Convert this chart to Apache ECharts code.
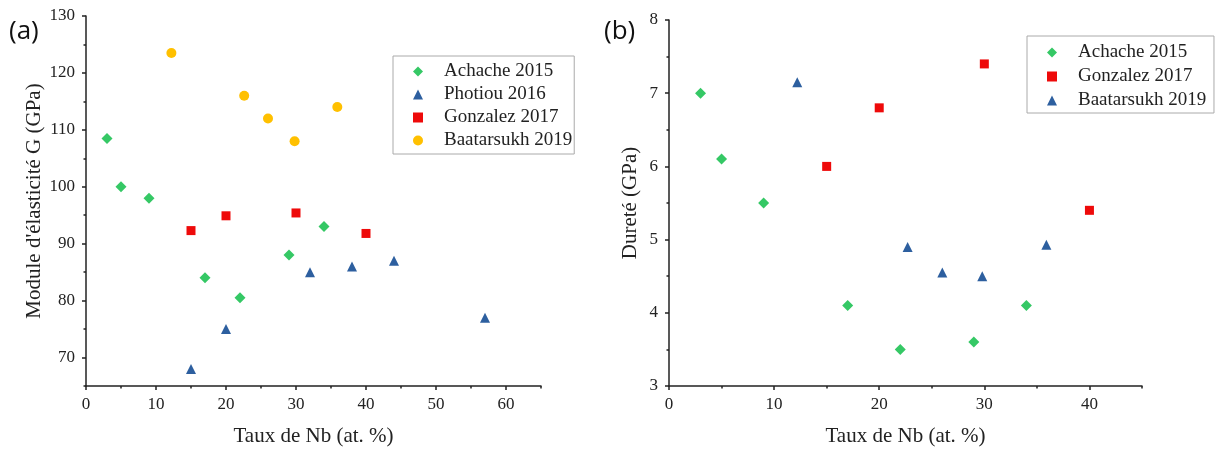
<!DOCTYPE html>
<html>
<head>
<meta charset="utf-8">
<script src="https://cdn.jsdelivr.net/npm/echarts@6/dist/echarts.min.js"></script>
<style>
html,body{margin:0;padding:0;background:#fff;}
#c{width:1218px;height:452px;}
</style>
</head>
<body>
<div id="c"></div>
<script>
// ---- Data: panel (a) shear modulus ----
const a_achache = [[3,108.5],[5,100],[9,98],[17,84],[22,80.5],[29,88],[34,93]];
const a_photiou = [[15,68],[20,75],[32,85],[38,86],[44,87],[57,77]];
const a_gonzalez = [[15,92.3],[20,94.9],[30,95.4],[40,91.8]];
const a_baatarsukh = [[12.2,123.5],[22.6,116],[26,112],[29.8,108],[35.9,114]];
// ---- Data: panel (b) hardness ----
const b_achache = [[3,7.0],[5,6.1],[9,5.5],[17,4.1],[22,3.5],[29,3.6],[34,4.1]];
const b_gonzalez = [[15,6.0],[20,6.8],[30,7.4],[40,5.4]];
const b_baatarsukh = [[12.2,7.15],[22.7,4.9],[26,4.55],[29.8,4.5],[35.9,4.93]];
// ---- Tick labels ----
const a_xMajor = [0,10,20,30,40,50,60];
const a_xMinor = [5,15,25,35,45,55,65];
const a_yMajor = [70,80,90,100,110,120,130];
const a_yMinor = [65,75,85,95,105,115,125];
const b_xMajor = [0,10,20,30,40];
const b_xMinor = [5,15,25,35,45];
const b_yMajor = [3,4,5,6,7,8];
const b_yMinor = [3.5,4.5,5.5,6.5,7.5];

const FONT = '"Liberation Serif", "DejaVu Serif", serif';
const C_GREEN = '#35c865', C_BLUE = '#2d5f9f', C_RED = '#ee0a0a', C_YEL = '#ffc000';

function majorAxis(kind, gridIndex, min, max, ticks, name, nameGap){
  return {
    type:'value', gridIndex, min, max,
    position: kind==='x' ? 'bottom' : 'left',
    name, nameLocation:'middle', nameGap,
    nameTextStyle:{fontFamily:FONT, fontSize:21, color:'#222'},
    axisLine:{show:true, onZero:false, lineStyle:{color:'#222', width:1.5}},
    axisTick:{show:true, inside:false, length:4, customValues:ticks, lineStyle:{color:'#222', width:1.5}},
    axisLabel:{show:true, customValues:ticks, fontFamily:FONT, fontSize:17, color:'#222', margin: kind==='x' ? 10 : 11},
    splitLine:{show:false}
  };
}
function minorAxis(kind, gridIndex, min, max, ticks){
  return {
    type:'value', gridIndex, min, max,
    position: kind==='x' ? 'bottom' : 'left',
    axisLine:{show:false, onZero:false},
    axisTick:{show:true, inside:false, length:2.5, customValues:ticks, lineStyle:{color:'#222', width:1.5}},
    axisLabel:{show:false},
    splitLine:{show:false}
  };
}
function sc(name, data, xi, yi, symbol, size, color){
  return {type:'scatter', name, data, xAxisIndex:xi, yAxisIndex:yi, symbol, symbolSize:size,
          itemStyle:{color, opacity:1}, emphasis:{disabled:true}};
}

const chart = echarts.init(document.getElementById('c'), null, {renderer:'canvas'});
chart.setOption({
  animation:false,
  backgroundColor:'#fff',
  textStyle:{fontFamily:FONT},
  grid:[
    {left:86, top:16, width:455, height:373},
    {left:669, top:20, width:473, height:369}
  ],
  xAxis:[
    majorAxis('x',0,0,65,a_xMajor,'Taux de Nb (at. %)',40),
    minorAxis('x',0,0,65,a_xMinor),
    majorAxis('x',1,0,45,b_xMajor,'Taux de Nb (at. %)',40),
    minorAxis('x',1,0,45,b_xMinor)
  ],
  yAxis:[
    majorAxis('y',0,65,130,a_yMajor,"Module d'élasticité G (GPa)",41),
    minorAxis('y',0,65,130,a_yMinor),
    majorAxis('y',1,3,8,b_yMajor,'Dureté (GPa)',28),
    minorAxis('y',1,3,8,b_yMinor)
  ],
  legend:[
    {
      left:393, top:56, orient:'vertical',
      data:['Achache 2015','Photiou 2016','Gonzalez 2017','Baatarsukh 2019'],
      itemWidth:10, itemHeight:10, itemGap:4,
      padding:[6,2,4,20],
      borderColor:'#aaa', borderWidth:1,
      textStyle:{fontFamily:FONT, fontSize:19, color:'#222', padding:[0,0,0,16]},
      selectedMode:false
    },
    {
      left:1027, top:36, orient:'vertical',
      data:['Achache 2015 ','Gonzalez 2017 ','Baatarsukh 2019 '],
      itemWidth:10, itemHeight:10, itemGap:5,
      padding:[7,3,3,20],
      borderColor:'#aaa', borderWidth:1,
      textStyle:{fontFamily:FONT, fontSize:19, color:'#222', padding:[0,0,0,16]},
      selectedMode:false
    }
  ],
  graphic:[
    {type:'text', left:9, top:19, style:{text:'(a)', fontFamily:'"Open Sans", "Liberation Sans", sans-serif', fontSize:26, fill:'#111'}},
    {type:'text', left:604, top:19, style:{text:'(b)', fontFamily:'"Open Sans", "Liberation Sans", sans-serif', fontSize:26, fill:'#111'}}
  ],
  series:[
    sc('Achache 2015', a_achache, 0, 0, 'diamond', 11, C_GREEN),
    sc('Photiou 2016', a_photiou, 0, 0, 'triangle', 10, C_BLUE),
    sc('Gonzalez 2017', a_gonzalez, 0, 0, 'rect', 9, C_RED),
    sc('Baatarsukh 2019', a_baatarsukh, 0, 0, 'circle', 10, C_YEL),
    sc('Achache 2015 ', b_achache, 2, 2, 'diamond', 11, C_GREEN),
    sc('Gonzalez 2017 ', b_gonzalez, 2, 2, 'rect', 9, C_RED),
    sc('Baatarsukh 2019 ', b_baatarsukh, 2, 2, 'triangle', 10, C_BLUE)
  ]
});
</script>
</body>
</html>
